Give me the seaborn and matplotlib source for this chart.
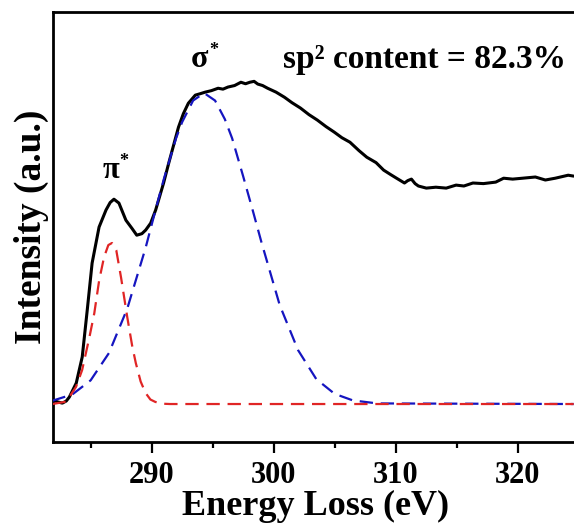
import numpy as np
import pandas as pd
import matplotlib
matplotlib.use('Agg')
import matplotlib.pyplot as plt
import seaborn as sns

sns.set_style('ticks')
plt.rcParams['font.family'] = ['Liberation Serif', 'DejaVu Serif']
plt.rcParams['font.weight'] = 'bold'
for k in ['axes.edgecolor', 'xtick.color', 'ytick.color', 'text.color', 'axes.labelcolor']:
    plt.rcParams[k] = 'black'

# measured EELS spectrum (C K-edge)
energy = [281.87, 282.30, 282.68, 283.00, 283.25, 283.82, 284.31, 284.72, 285.12, 285.69,
          286.26, 286.60, 286.91, 287.32, 287.89, 288.40, 288.78, 289.20, 289.51, 289.92,
          290.33, 290.98, 291.38, 292.20, 292.60, 293.01, 293.58, 294.00, 294.39, 294.90,
          295.45, 295.85, 296.26, 296.80, 297.32, 297.70, 298.05, 298.40, 298.70, 299.10,
          299.51, 300.20, 300.89, 301.50, 302.20, 302.90, 303.58, 304.30, 304.96, 305.60,
          306.26, 307.00, 307.64, 308.40, 309.02, 309.60, 310.08, 310.73, 311.00, 311.30,
          311.60, 311.87, 312.52, 313.30, 314.15, 314.96, 315.60, 316.34, 317.20, 318.21,
          318.86, 319.60, 320.41, 321.46, 322.28, 323.09, 324.15, 324.60]
intensity = [0.013, 0.007, 0.003, 0.010, 0.023, 0.070, 0.157, 0.313, 0.470, 0.590,
             0.647, 0.672, 0.683, 0.670, 0.613, 0.585, 0.563, 0.568, 0.580, 0.603,
             0.647, 0.737, 0.800, 0.923, 0.968, 1.003, 1.030, 1.035, 1.040, 1.045,
             1.053, 1.050, 1.057, 1.062, 1.073, 1.068, 1.073, 1.076, 1.067, 1.062,
             1.053, 1.040, 1.023, 1.005, 0.987, 0.965, 0.947, 0.925, 0.907, 0.888,
             0.873, 0.845, 0.823, 0.805, 0.780, 0.765, 0.753, 0.737, 0.745, 0.750,
             0.735, 0.727, 0.720, 0.723, 0.720, 0.730, 0.727, 0.737, 0.735, 0.740,
             0.753, 0.750, 0.753, 0.757, 0.747, 0.753, 0.763, 0.760]

# pi* fitted peak
pi_energy = [281.87, 283.00, 283.80, 284.30, 284.90, 285.30, 285.70, 286.10, 286.45, 286.75,
             287.10, 287.50, 288.00, 288.40, 288.70, 289.10, 289.50, 289.90, 290.30, 290.90,
             291.50, 324.60]
pi_fit = [0.000, 0.008, 0.057, 0.113, 0.223, 0.303, 0.413, 0.490, 0.530, 0.537,
          0.513, 0.420, 0.290, 0.195, 0.137, 0.075, 0.037, 0.015, 0.007, 0.001,
          0.000, 0.000]

# sigma* fitted peak
sigma_energy = [281.87, 283.50, 285.00, 286.50, 288.00, 289.50, 290.30, 291.00, 292.00, 292.50,
                293.40, 294.30, 295.20, 296.00, 296.60, 297.50, 298.30, 299.00, 300.50, 302.00,
                303.50, 305.00, 306.50, 308.50, 324.60]
sigma_fit = [0.011, 0.032, 0.079, 0.170, 0.318, 0.520, 0.644, 0.750, 0.886, 0.940,
             1.012, 1.037, 1.012, 0.950, 0.886, 0.760, 0.644, 0.540, 0.330, 0.180,
             0.083, 0.034, 0.012, 0.002, 0.000]

spec = pd.DataFrame({'E': energy, 'I': intensity})
pi_df = pd.DataFrame({'E': pi_energy, 'I': pi_fit})
sig_df = pd.DataFrame({'E': sigma_energy, 'I': sigma_fit})

fig = plt.figure(figsize=(5.74, 5.29), dpi=100)
ax = fig.add_axes([0.0929, 0.165, 0.915, 0.812])

sns.lineplot(data=spec, x='E', y='I', ax=ax, color='black', lw=2.2,
             estimator=None, sort=False, zorder=3)
sns.lineplot(data=sig_df, x='E', y='I', ax=ax, color='#1515c0', lw=1.6,
             estimator=None, sort=False, zorder=4)
sns.lineplot(data=pi_df, x='E', y='I', ax=ax, color='#e02525', lw=1.6,
             estimator=None, sort=False, zorder=5)
for ln in ax.lines[1:]:
    ln.set_dashes((6, 3.5))

ax.set_xlim(281.94, 324.53)
ax.set_ylim(-0.1257, 1.3067)
ax.set_xticks([290, 300, 310, 320])
ax.set_xticks([285, 295, 305, 315, 325], minor=True)
ax.set_yticks([])
ax.tick_params(axis='x', which='major', length=8, width=1.6, labelsize=22, pad=6)
ax.tick_params(axis='x', which='minor', length=4.5, width=1.6)
for lab in ax.get_xticklabels():
    lab.set_fontweight('bold')
for sp in ax.spines.values():
    sp.set_linewidth(2)

ax.set_xlabel('Energy Loss (eV)', fontsize=26, fontweight='bold', labelpad=0)
ax.set_ylabel('Intensity (a.u.)', fontsize=27, fontweight='bold', labelpad=3)

# peak labels
ax.text(285.97, 0.753, 'π', fontsize=22, fontweight='bold', ha='left', va='baseline')
ax.text(287.35, 0.837, '*', fontsize=13, fontweight='bold', ha='left', va='top')
ax.text(293.19, 1.123, 'σ', fontsize=23, fontweight='bold', ha='left', va='baseline')
ax.text(294.73, 1.207, '*', fontsize=13, fontweight='bold', ha='left', va='top')
ax.text(300.73, 1.12, 'sp² content = 82.3%', fontsize=24, fontweight='bold',
        ha='left', va='baseline')

fig.savefig('out.png', dpi=100)
